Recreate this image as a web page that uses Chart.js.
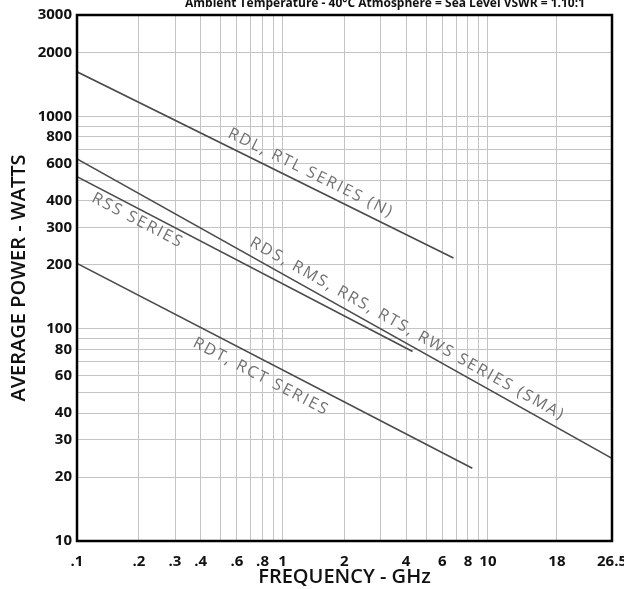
<!DOCTYPE html>
<html>
<head>
<meta charset="utf-8">
<title>Average power vs frequency</title>
<script src="https://cdn.jsdelivr.net/npm/chart.js@4.4.1/dist/chart.umd.min.js"></script>
<style>
  body { margin: 0; background: #fff; }
  #wrap { width: 624px; height: 589px; }
</style>
</head>
<body>
<div id="wrap"><canvas id="c-chart-power"></canvas></div>
<script>
// frequency axis, GHz
const freqGrid = [0.1, 0.2, 0.3, 0.4, 0.5, 0.6, 0.7, 0.8, 0.9, 1, 2, 3, 4, 5, 6, 7, 8, 9, 10, 18, 26.5]
const freqLabels = [0.1, 0.2, 0.3, 0.4, 0.6, 0.8, 1, 2, 4, 6, 8, 10, 18, 26.5]
// power axis, watts
const powerGrid = [10, 20, 30, 40, 50, 60, 70, 80, 90, 100, 200, 300, 400, 500, 600, 700, 800, 900, 1000, 2000, 3000]
const powerLabels = [10, 20, 30, 40, 60, 80, 100, 200, 300, 400, 600, 800, 1000, 2000, 3000]

// each series is a straight line on the log-log sheet: two end points
const seriesNames = ['RDL, RTL SERIES (N)', 'RDS, RMS, RRS, RTS, RWS SERIES (SMA)', 'RSS SERIES', 'RDT, RCT SERIES']
const rdlFreq = [0.1, 6.8]
const rdlWatts = [1620, 215]
const smaFreq = [0.1, 26.5]
const smaWatts = [630, 24.5]
const rssFreq = [0.1, 4.3]
const rssWatts = [520, 78]
const rdtFreq = [0.1, 8.4]
const rdtWatts = [203, 22]

const header = 'Ambient Temperature - 40°C Atmosphere = Sea Level VSWR = 1.10:1'

// where each series name sits: frequency along its line, offset from the line in px
const labelAt = [[1.29, -13], [3.78, -13], [0.209, 11], [0.855, 16]]

// the printed sheet squeezes the 10 - 26.5 GHz part of the frequency axis
const freqWarp = [[0.1, 0], [10, 0.768], [18, 0.897], [26.5, 1]]

function warp(v) {
  const lv = Math.log10(v)
  let i = 1
  while (i < freqWarp.length - 1 && v > freqWarp[i][0]) i++
  const [v0, f0] = freqWarp[i - 1]
  const [v1, f1] = freqWarp[i]
  return f0 + (f1 - f0) * (lv - Math.log10(v0)) / (Math.log10(v1) - Math.log10(v0))
}

function unwarp(f) {
  let i = 1
  while (i < freqWarp.length - 1 && f > freqWarp[i][1]) i++
  const [v0, f0] = freqWarp[i - 1]
  const [v1, f1] = freqWarp[i]
  const lv = Math.log10(v0) + (f - f0) / (f1 - f0) * (Math.log10(v1) - Math.log10(v0))
  return Math.pow(10, lv)
}

class SheetLogScale extends Chart.LogarithmicScale {
  static id = 'sheetLog'
  getPixelForValue(value) {
    if (value === null || value === undefined || isNaN(value)) return NaN
    return this.getPixelForDecimal(warp(value))
  }
  getValueForPixel(pixel) {
    return unwarp(this.getDecimalForPixel(pixel))
  }
}
Chart.register(SheetLogScale)

function points(xs, ys) {
  return xs.map((x, i) => ({ x: x, y: ys[i] }))
}

const seriesText = {
  id: 'seriesText',
  afterDatasetsDraw(chart) {
    const { ctx, chartArea: a, scales: { x, y } } = chart
    ctx.save()
    ctx.strokeStyle = '#000'
    ctx.lineWidth = 2.5
    ctx.strokeRect(a.left, a.top, a.width, a.height)

    ctx.fillStyle = '#111'
    ctx.font = 'bold 12px "Open Sans"'
    ctx.textAlign = 'left'
    ctx.textBaseline = 'alphabetic'
    ctx.fillText(header, 185, 7)

    ctx.font = '16px "Open Sans"'
    ctx.fillStyle = '#707070'
    ctx.letterSpacing = '2px'
    ctx.textAlign = 'center'
    ctx.textBaseline = 'middle'
    chart.data.datasets.forEach((ds, i) => {
      const p = ds.data.map(d => [x.getPixelForValue(d.x), y.getPixelForValue(d.y)])
      const ang = Math.atan2(p[1][1] - p[0][1], p[1][0] - p[0][0])
      const px = x.getPixelForValue(labelAt[i][0])
      const t = (px - p[0][0]) / (p[1][0] - p[0][0])
      const py = p[0][1] + t * (p[1][1] - p[0][1])
      ctx.save()
      ctx.translate(px, py)
      ctx.rotate(ang)
      ctx.fillText(ds.label, 0, labelAt[i][1])
      ctx.restore()
    })
    ctx.restore()
  }
}

Chart.defaults.font.family = '"Open Sans", sans-serif'

const lineStyle = { borderColor: '#4a4a4a', borderWidth: 1.6, pointRadius: 0, fill: false, tension: 0 }

new Chart(document.getElementById('c-chart-power').getContext('2d'), {
  type: 'line',
  data: {
    datasets: [
      { label: seriesNames[0], data: points(rdlFreq, rdlWatts), ...lineStyle },
      { label: seriesNames[1], data: points(smaFreq, smaWatts), ...lineStyle },
      { label: seriesNames[2], data: points(rssFreq, rssWatts), ...lineStyle },
      { label: seriesNames[3], data: points(rdtFreq, rdtWatts), ...lineStyle }
    ]
  },
  options: {
    responsive: true,
    maintainAspectRatio: false,
    animation: false,
    layout: { padding: { top: 15, right: 12, left: 0, bottom: 0 } },
    plugins: {
      legend: { display: false },
      title: { display: false },
      tooltip: { enabled: false }
    },
    scales: {
      x: {
        type: 'sheetLog',
        min: 0.1,
        max: 26.5,
        afterBuildTicks: s => { s.ticks = freqGrid.map(v => ({ value: v })) },
        afterFit: s => { s.height = 48; s.paddingLeft = 0; s.paddingRight = 0 },
        grid: { color: '#c4c4c4', lineWidth: 1, drawTicks: false },
        border: { display: false },
        ticks: {
          autoSkip: false,
          maxRotation: 0,
          minRotation: 0,
          padding: 12,
          color: '#111',
          font: { size: 15, weight: 'bold' },
          callback: v => freqLabels.includes(v) ? (v < 1 ? String(v).slice(1) : String(v)) : ''
        },
        title: {
          display: true,
          text: 'FREQUENCY - GHz',
          color: '#111',
          font: { size: 20, weight: '600' },
          padding: 0
        }
      },
      y: {
        type: 'logarithmic',
        min: 10,
        max: 3000,
        afterBuildTicks: s => { s.ticks = powerGrid.map(v => ({ value: v })) },
        afterFit: s => { s.width = 77; s.paddingTop = 0; s.paddingBottom = 0 },
        grid: { color: '#c4c4c4', lineWidth: 1, drawTicks: false },
        border: { display: false },
        ticks: {
          autoSkip: false,
          padding: 5,
          color: '#111',
          font: { size: 15, weight: 'bold' },
          callback: v => powerLabels.includes(v) ? String(v) : ''
        },
        title: {
          display: true,
          text: 'AVERAGE POWER - WATTS',
          color: '#111',
          font: { size: 20, weight: '600' },
          padding: { top: 7, bottom: 0 }
        }
      }
    }
  },
  plugins: [seriesText]
})
</script>
</body>
</html>
